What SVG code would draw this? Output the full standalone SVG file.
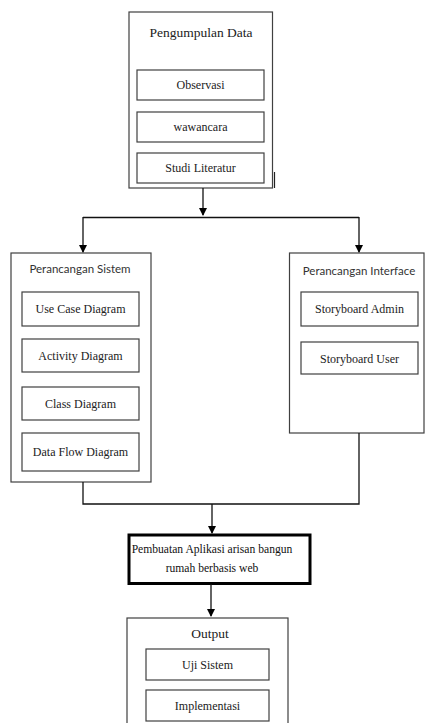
<svg xmlns="http://www.w3.org/2000/svg" width="425" height="723" viewBox="0 0 425 723">
<style>
.box{fill:#fff;stroke:#404040;stroke-width:1.2}
.thick{fill:#fff;stroke:#000;stroke-width:3}
.t{font-family:"Liberation Serif",serif;font-size:12px;fill:#222;text-anchor:middle}
.tb{font-family:"Liberation Serif",serif;font-size:11.6px;fill:#111;text-anchor:middle}
.tt{font-family:"Liberation Serif",serif;font-size:13.5px;fill:#222;text-anchor:middle}
.ts{font-family:Lato,"Open Sans",sans-serif;font-size:11.5px;fill:#333;text-anchor:middle}
.c{fill:none;stroke:#111;stroke-width:1.3}
</style>
<defs>
<marker id="ah" markerWidth="8" markerHeight="8" refX="7" refY="4" orient="auto" markerUnits="userSpaceOnUse"><path d="M0,0 L8,4 L0,8 Z" fill="#000"/></marker>
</defs>
<rect width="425" height="723" fill="#fff"/>
<g id="pengumpulan">
<rect class="box" x="129" y="12" width="143.5" height="176"/>
<line x1="274.5" y1="172" x2="274.5" y2="188" stroke="#222" stroke-width="1.2"/>
<text class="tt" x="201" y="37">Pengumpulan  Data</text>
<rect class="box" x="137" y="70" width="127" height="30"/>
<text class="t" x="200.5" y="89">Observasi</text>
<rect class="box" x="137" y="112" width="127" height="30"/>
<text class="t" x="200.5" y="131">wawancara</text>
<rect class="box" x="137" y="153" width="127" height="30"/>
<text class="t" x="200.5" y="172">Studi Literatur</text>
</g>
<g id="sistem">
<rect class="box" x="11" y="253" width="140" height="229"/>
<text class="ts" x="80" y="273">Perancangan Sistem</text>
<rect class="box" x="22" y="292" width="117" height="34"/>
<text class="t" x="80.5" y="313">Use Case Diagram</text>
<rect class="box" x="22" y="339" width="117" height="33"/>
<text class="t" x="80.5" y="360">Activity  Diagram</text>
<rect class="box" x="22" y="387" width="117" height="33"/>
<text class="t" x="80.5" y="408">Class Diagram</text>
<rect class="box" x="22" y="433" width="117" height="38"/>
<text class="t" x="80.5" y="456">Data Flow Diagram</text>
</g>
<g id="interface">
<rect class="box" x="289.5" y="253" width="134.5" height="180"/>
<text class="ts" x="359" y="275">Perancangan Interface</text>
<rect class="box" x="301" y="292" width="117" height="34"/>
<text class="t" x="359.5" y="313">Storyboard Admin</text>
<rect class="box" x="301" y="342" width="117" height="32"/>
<text class="t" x="359.5" y="363">Storyboard User</text>
</g>
<g id="pembuatan">
<rect class="thick" x="129" y="535" width="181" height="48.5"/>
<text class="tb" x="212" y="553">Pembuatan Aplikasi arisan bangun</text>
<text class="tb" x="212" y="572">rumah berbasis web</text>
</g>
<g id="output">
<rect class="box" x="127" y="618" width="161" height="110"/>
<text class="tt" x="210" y="638">Output</text>
<rect class="box" x="146" y="649" width="123" height="31"/>
<text class="t" x="207.5" y="669">Uji Sistem</text>
<rect class="box" x="146" y="690" width="123" height="31"/>
<text class="t" x="207.5" y="710">Implementasi</text>
</g>
<g id="connectors">
<line class="c" x1="203" y1="188" x2="203" y2="215" marker-end="url(#ah)"/>
<line class="c" x1="83" y1="217.5" x2="359" y2="217.5"/>
<line class="c" x1="83" y1="217" x2="83" y2="252" marker-end="url(#ah)"/>
<line class="c" x1="359" y1="217" x2="359" y2="252" marker-end="url(#ah)"/>
<polyline class="c" points="83,482 83,504 359,504 359,433"/>
<line class="c" x1="212" y1="504" x2="212" y2="533" marker-end="url(#ah)"/>
<line class="c" x1="211" y1="584" x2="211" y2="616" marker-end="url(#ah)"/>
</g>
</svg>
